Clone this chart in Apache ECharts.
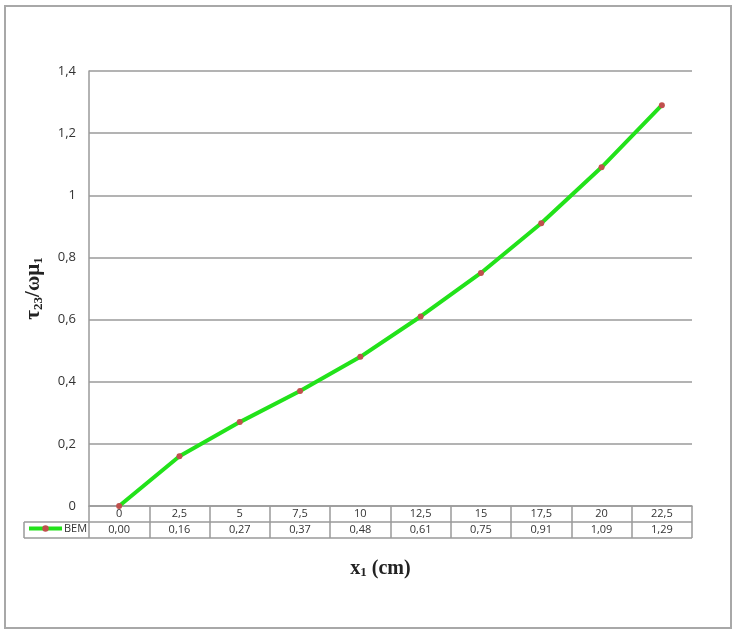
<!DOCTYPE html>
<html>
<head>
<meta charset="utf-8">
<script src="https://cdn.jsdelivr.net/npm/echarts@6/dist/echarts.min.js"></script>
<style>
  html, body { margin: 0; padding: 0; background: #fff; }
  #chart { width: 738px; height: 639px; }
</style>
</head>
<body>
<div id="chart"></div>
<script>
// data
var categories = ['0', '2,5', '5', '7,5', '10', '12,5', '15', '17,5', '20', '22,5'];
var bemValues = [0.00, 0.16, 0.27, 0.37, 0.48, 0.61, 0.75, 0.91, 1.09, 1.29];
var seriesName = 'BEM';

// layout
var gridLeft = 89, gridRight = 692, gridTop = 71, gridBottom = 506;
var rowH = 16;
var tableLeft = 24;
var gray = '#9a9a9a';

function comma (v, d) {
  return (d == null ? String(+v.toFixed(1)) : v.toFixed(d)).replace('.', ',');
}

var myChart = echarts.init(document.getElementById('chart'));
var option = {
  animation: false,
  textStyle: { fontFamily: 'Open Sans, sans-serif' },
  grid: {
    left: gridLeft,
    right: 738 - gridRight,
    top: gridTop,
    bottom: 639 - gridBottom
  },
  legend: {
    data: [seriesName],
    left: tableLeft + 3,
    top: gridBottom + rowH + 1,
    padding: 0,
    itemWidth: 33,
    itemHeight: 8,
    itemGap: 2,
    lineStyle: { width: 4 },
    textStyle: { fontSize: 11, color: '#333', fontFamily: 'Open Sans, sans-serif', padding: [0, 0, 0, -3] }
  },
  xAxis: {
    type: 'category',
    data: categories,
    axisLine: { lineStyle: { color: gray, width: 1.5 } },
    axisTick: {
      show: true,
      interval: 0,
      length: rowH * 2,
      inside: false,
      lineStyle: { color: gray, width: 1.5 }
    },
    axisLabel: {
      interval: 0,
      margin: 0,
      formatter: function (val, idx) {
        return '{a|' + val + '}\n{a|' + comma(bemValues[idx], 2) + '}';
      },
      rich: {
        a: { fontSize: 11, color: '#333', lineHeight: rowH, fontFamily: 'Open Sans, sans-serif' }
      }
    },
    name: '{t|x}{s|1}{t| (cm)}',
    nameLocation: 'middle',
    nameGap: 52,
    nameTextStyle: {
      padding: [0, 20, 0, 0],
      rich: {
        t: { fontFamily: 'Liberation Serif', fontWeight: 'bold', fontSize: 20, color: '#222' },
        s: { fontFamily: 'Liberation Serif', fontWeight: 'bold', fontSize: 13, color: '#222', padding: [8, 0, 0, 0] }
      }
    }
  },
  yAxis: {
    type: 'value',
    min: 0,
    max: 1.4,
    interval: 0.2,
    axisLine: { show: true, lineStyle: { color: gray, width: 1.5 } },
    axisTick: { show: false },
    axisLabel: {
      margin: 13,
      fontSize: 13,
      color: '#333',
      formatter: function (v) { return comma(v); }
    },
    splitLine: { lineStyle: { color: gray, width: 1.5 } },
    name: '{t|τ}{s|23}{t|/ωμ}{s|1}',
    nameLocation: 'middle',
    nameGap: 44,
    nameRotate: 90,
    nameTextStyle: {
      rich: {
        t: { fontFamily: 'Liberation Serif', fontWeight: 'bold', fontSize: 21, color: '#222' },
        s: { fontFamily: 'Liberation Serif', fontWeight: 'bold', fontSize: 13, color: '#222', padding: [9, 0, 0, 0] }
      }
    }
  },
  series: [
    {
      name: seriesName,
      type: 'line',
      data: bemValues,
      symbol: 'circle',
      symbolSize: 6,
      lineStyle: { color: '#22e21a', width: 4 },
      itemStyle: { color: '#c0504d' },
      z: 3
    }
  ],
  graphic: [
    // outer frame
    {
      type: 'rect',
      shape: { x: 5, y: 6, width: 726, height: 622 },
      style: { fill: 'none', stroke: '#a8a8a8', lineWidth: 2 }
    },
    // data table rows
    {
      type: 'line',
      shape: { x1: tableLeft, y1: gridBottom + rowH, x2: gridRight, y2: gridBottom + rowH },
      style: { stroke: gray, lineWidth: 1.5 }
    },
    {
      type: 'line',
      shape: { x1: tableLeft, y1: gridBottom + rowH * 2, x2: gridRight, y2: gridBottom + rowH * 2 },
      style: { stroke: gray, lineWidth: 1.5 }
    },
    {
      type: 'line',
      shape: { x1: tableLeft, y1: gridBottom + rowH, x2: tableLeft, y2: gridBottom + rowH * 2 },
      style: { stroke: gray, lineWidth: 1.5 }
    }
  ]
};
myChart.setOption(option);
</script>
</body>
</html>
